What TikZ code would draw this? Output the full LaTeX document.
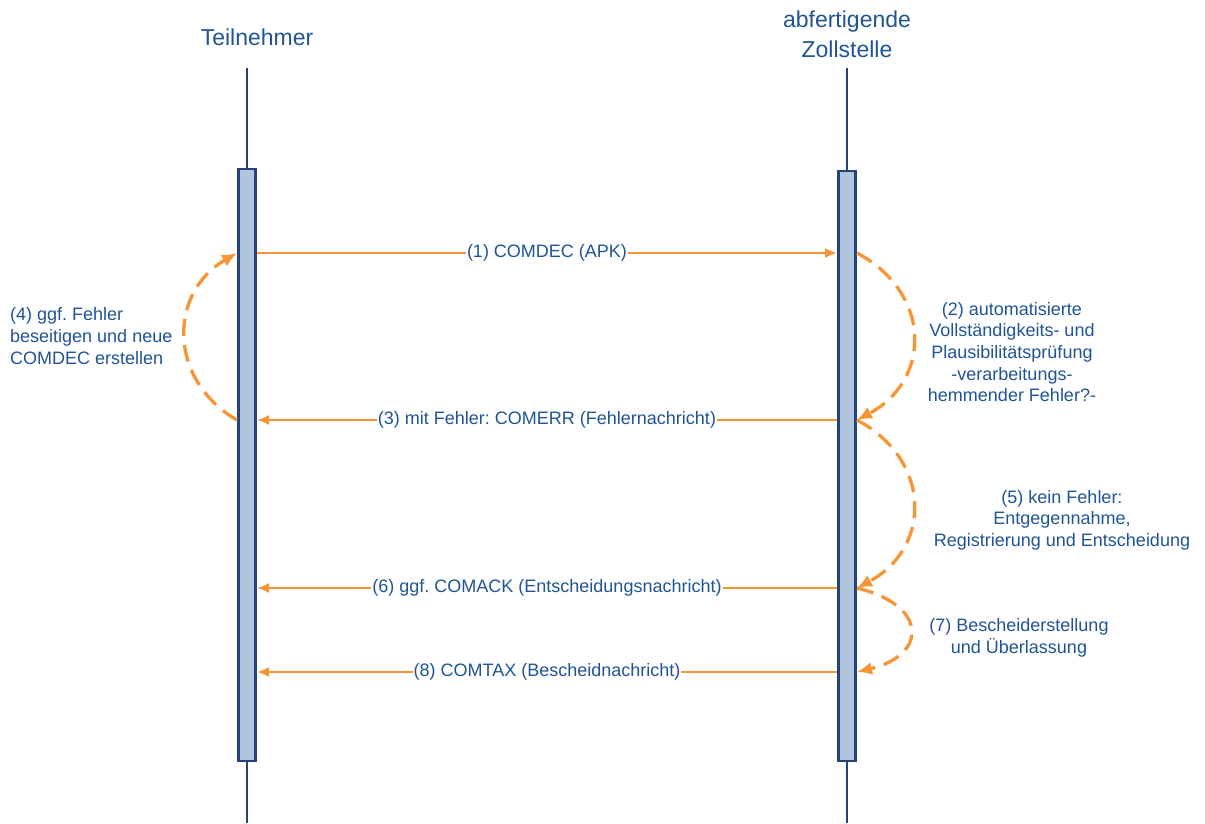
\documentclass[tikz,border=0pt]{standalone}
\usepackage{fontspec}
\setmainfont{Liberation Sans}
\usepackage{xcolor}
\usetikzlibrary{arrows.meta, positioning}
\frenchspacing

\definecolor{zollblau}{RGB}{31,84,150}
\definecolor{rahmen}{RGB}{38,66,122}
\definecolor{balken}{RGB}{176,196,222}
\definecolor{pfeil}{RGB}{247,148,51}

\begin{document}
\begin{tikzpicture}[x=1pt, y=-1pt, >={Latex[length=12pt,width=10pt]},
    lifeline/.style={draw=rahmen, line width=2pt},
    aktbox/.style={draw=rahmen, fill=balken, line width=2.8pt, minimum width=17.2pt, inner sep=0pt},
    msg/.style={->, draw=pfeil, line width=2pt},
    eigen/.style={-{Latex[length=15pt,width=13pt]}, draw=pfeil, line width=3.3pt, dash pattern=on 17pt off 9pt},
    titel/.style={text=zollblau, font=\fontsize{23}{30}\selectfont, align=center},
    msglabel/.style={fill=white, text=zollblau, font=\fontsize{18}{21.6}\selectfont, inner sep=1pt},
    notiz/.style={text=zollblau, font=\fontsize{18}{21.6}\selectfont, inner sep=0pt}]
    \useasboundingbox (0,0) rectangle (1205,823);

    % 1. Teilnehmer und Zollstelle
    \node[titel] (teilnehmer) at (257,37) {Teilnehmer};
    \node[titel] (zollstelle) at (847,34) {abfertigende\\Zollstelle};

    % Lebenslinien
    \draw[lifeline] (247,68) -- (247,823);
    \draw[lifeline] (847,68) -- (847,823);

    % Aktivierungsbalken
    \node[aktbox, minimum height=592pt] (tn) at (247,465) {};
    \node[aktbox, minimum height=590pt] (zs) at (847,466) {};

    % 2. Anschlusspunkte der Nachrichten
    \foreach \n/\y in {1/253, 3/420, 6/588, 8/672} {
        \coordinate (tn\n) at (257,\y);
        \coordinate (tl\n) at (237,\y);
        \coordinate (zs\n) at (837,\y);
        \coordinate (zr\n) at (857,\y);
    }

    % Nachrichten zwischen den Lebenslinien
    \draw[msg] (tn1) -- (zs1) node[msglabel, midway] (n1) {(1) COMDEC (APK)};
    \draw[msg] (zs3) -- (tn3) node[msglabel, midway] (n3) {(3) mit Fehler: COMERR (Fehlernachricht)};
    \draw[msg] (zs6) -- (tn6) node[msglabel, midway] (n6) {(6) ggf. COMACK (Entscheidungsnachricht)};
    \draw[msg] (zs8) -- (tn8) node[msglabel, midway] (n8) {(8) COMTAX (Bescheidnachricht)};

    % 3. Interne Schritte (gestrichelte Boegen)
    \draw[eigen] (zr1) .. controls (932,293) and (932,380) .. (zr3);
    \draw[eigen] (zr3) .. controls (932,460) and (932,548) .. (zr6);
    \draw[eigen] (zr6) .. controls (928,605) and (928,655) .. (zr8);
    \draw[eigen] (tl3) .. controls (168,380) and (168,293) .. (tl1);

    % Beschriftungen der Schritte
    \node[notiz, align=center] (s2) at (1012,352) {(2) automatisierte\\Vollständigkeits- und\\Plausibilitätsprüfung\\-verarbeitungs-\\hemmender Fehler?-};
    \node[notiz, align=left, anchor=west] (s4) at (10,336) {(4) ggf. Fehler\\beseitigen und neue\\COMDEC erstellen};
    \node[notiz, align=center] (s5) at (1062,520) {(5) kein Fehler:\\Entgegennahme,\\Registrierung und Entscheidung};
    \node[notiz, align=center] (s7) at (1019,638) {(7) Bescheiderstellung\\und Überlassung};

\end{tikzpicture}
\end{document}
